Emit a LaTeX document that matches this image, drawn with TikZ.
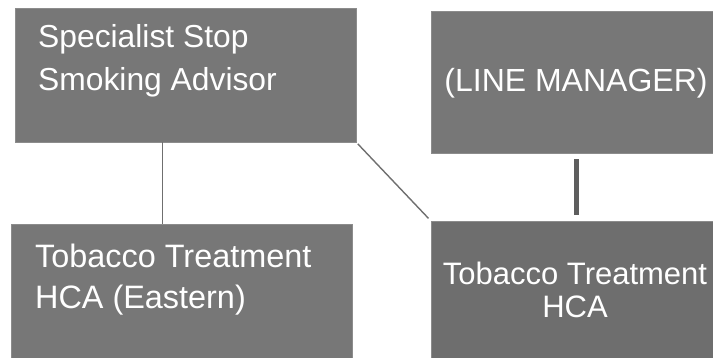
\documentclass[tikz,border=0pt]{standalone}
\usepackage{fontspec}
\setmainfont{Liberation Sans}
\definecolor{boxgray}{HTML}{777777}
\definecolor{boxdark}{HTML}{6E6E6E}
\definecolor{boxedge}{HTML}{8C8C8C}
\definecolor{linkgray}{HTML}{6F6F6F}
\definecolor{bargray}{HTML}{5E5E5E}
\begin{document}
\begin{tikzpicture}[x=1pt,y=-1pt,
  orgbox/.style={draw=boxedge,line width=0.8pt,fill=boxgray,inner sep=0pt,anchor=center},
  boxtext/.style={text=white,inner sep=0pt},
  link/.style={draw=linkgray,line width=1.4pt},
  bar/.style={draw=bargray,line width=5pt}]
\useasboundingbox (0,0) rectangle (713,358);
\node[orgbox,minimum width=341pt,minimum height=134pt] (b1) at (185.5,75) {};
\node[orgbox,minimum width=282pt,minimum height=142pt] (b2) at (572,82) {};
\node[orgbox,minimum width=341pt,minimum height=134pt] (b3) at (181.5,291) {};
\node[orgbox,fill=boxdark,minimum width=282pt,minimum height=137pt] (b4) at (572,289.5) {};
\node[boxtext,anchor=base west,align=left,font=\fontsize{31.8}{43}\selectfont] (t1) at (38,91) {Specialist Stop\\Smoking Advisor};
\node[boxtext,anchor=base,font=\fontsize{32}{40}\selectfont] (t2) at (576,92) {(LINE MANAGER)};
\node[boxtext,anchor=base west,align=left,font=\fontsize{32.4}{42}\selectfont] (t3) at (35,309) {Tobacco Treatment\\HCA (Eastern)};
\node[boxtext,anchor=base,align=center,font=\fontsize{31}{33}\selectfont] (t4) at (575,318) {Tobacco Treatment\\HCA};
\draw[link] ([xshift=148pt]b1.south west) -- ([xshift=152pt]b3.north west);
\draw[link,shorten <=2pt,shorten >=3pt] (b1.south east) -- (b4.north west);
\draw[bar,shorten <=6pt,shorten >=6pt] ([xshift=4pt]b2.south) -- ([xshift=4pt]b4.north);
\end{tikzpicture}
\end{document}
